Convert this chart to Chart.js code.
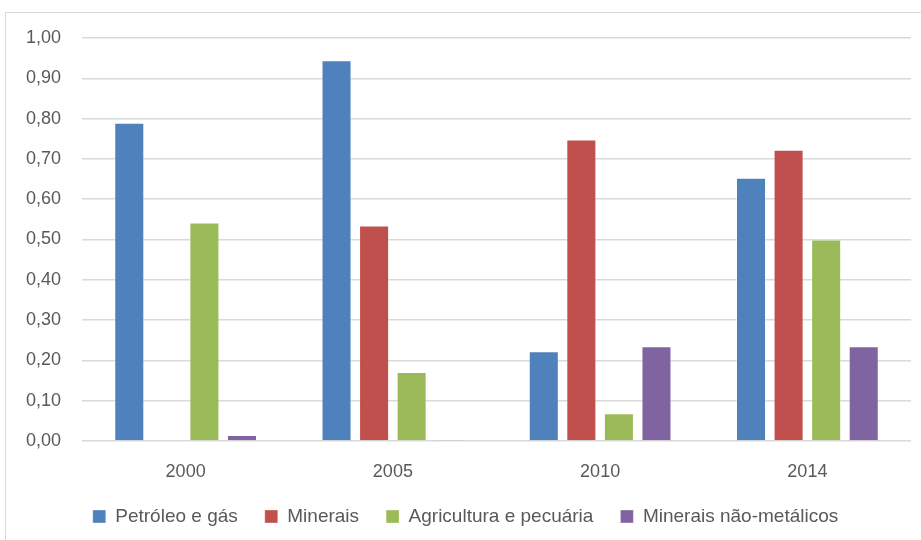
<!DOCTYPE html>
<html>
<head>
<meta charset="utf-8">
<script src="https://cdn.jsdelivr.net/npm/chart.js@4/dist/chart.umd.min.js"></script>
<style>
  html, body { margin: 0; padding: 0; background: #fff; }
  #wrap { width: 921px; height: 540px; position: relative; }
</style>
</head>
<body>
<div id="wrap"><canvas id="chart" width="921" height="540"></canvas></div>
<script>
const years = ["2000", "2005", "2010", "2014"];
const petroleo = [0.79, 0.945, 0.223, 0.653];
const minerais = [0, 0.535, 0.748, 0.723];
const agricultura = [0.542, 0.171, 0.069, 0.50];
const naoMetalicos = [0.015, 0.003, 0.235, 0.235];

const seriesNames = ["Petróleo e gás", "Minerais", "Agricultura e pecuária", "Minerais não-metálicos"];
const seriesColors = ["#4F81BD", "#C0504D", "#9BBB59", "#8064A2"];

const fontFamily = "'Liberation Sans', 'DejaVu Sans', sans-serif";
const textColor = "#595959";

// outer frame like the original export
const framePlugin = {
  id: "frame",
  beforeDraw(chart) {
    const ctx = chart.ctx;
    ctx.save();
    ctx.strokeStyle = "#d9d9d9";
    ctx.lineWidth = 1;
    ctx.strokeRect(5.5, 12.5, 940, 600);
    ctx.restore();
  }
};

function makeDataset(i, values) {
  return {
    label: seriesNames[i],
    data: values,
    backgroundColor: seriesColors[i],
    borderColor: "rgba(255,255,255,0.35)",
    borderWidth: 1,
    categoryPercentage: 0.725,
    barPercentage: 0.8
  };
}

new Chart(document.getElementById("chart"), {
  type: "bar",
  data: {
    labels: years,
    datasets: [
      makeDataset(0, petroleo),
      makeDataset(1, minerais),
      makeDataset(2, agricultura),
      makeDataset(3, naoMetalicos)
    ]
  },
  options: {
    responsive: false,
    animation: false,
    layout: { padding: { top: 38, right: 10, bottom: 4, left: 20 } },
    scales: {
      x: {
        grid: { display: false },
        border: { display: false },
        afterFit(scale) { scale.height = 39; },
        ticks: { color: textColor, font: { family: fontFamily, size: 18 }, padding: 12 }
      },
      y: {
        min: 0,
        max: 1,
        afterFit(scale) { scale.width = 62; },
        grid: { color: "#d9d9d9", lineWidth: 1.5, drawTicks: false },
        border: { display: false },
        ticks: {
          stepSize: 0.1,
          color: textColor,
          font: { family: fontFamily, size: 18 },
          padding: 21,
          callback: (v) => v.toFixed(2).replace(".", ",")
        }
      }
    },
    plugins: {
      legend: {
        position: "bottom",
        labels: {
          color: textColor,
          font: { family: fontFamily, size: 19 },
          boxWidth: 13,
          boxHeight: 13,
          padding: 27
        }
      },
      tooltip: { enabled: false }
    }
  },
  plugins: [framePlugin]
});
</script>
</body>
</html>
